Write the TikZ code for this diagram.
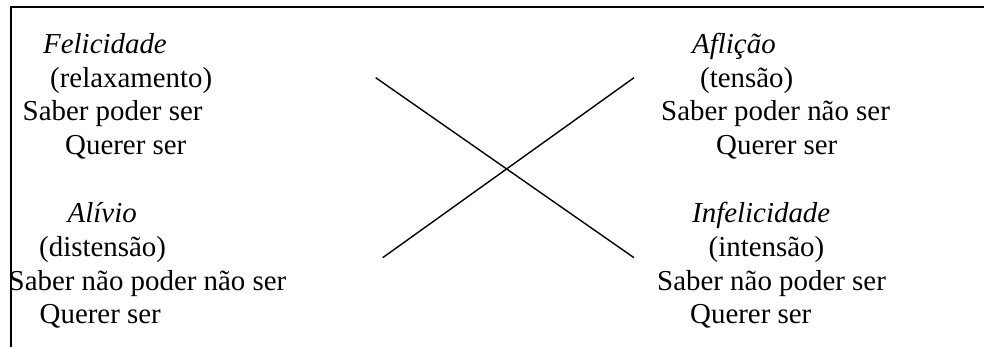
\documentclass[tikz,border=0pt]{standalone}
\usepackage{fontspec}
\setmainfont{Liberation Serif}
\begin{document}
\begin{tikzpicture}[x=1pt,y=-1pt,
  txt/.style={anchor=base west,inner sep=0pt,font=\fontsize{28.9}{33}\selectfont},
  itxt/.style={txt,font=\fontsize{28.9}{33}\selectfont\itshape},
  frame/.style={line width=2pt},
  cross/.style={line width=1.4pt}]
\useasboundingbox (0,0) rectangle (984,347);
% frame (top and left only)
\coordinate (tl) at (10.5,7.5);
\coordinate (tr) at (984,7.5);
\coordinate (bl) at (10.5,347);
\draw[frame] (tr) -- (tl) -- (bl);
% top left block
\node[itxt] (fel) at (43,54) {Felicidade};
\node[txt] (rel) at (50,87.5) {(relaxamento)};
\node[txt] (spsA) at (22.5,121) {Saber poder ser};
\node[txt] (qsA) at (65,155) {Querer ser};
% top right block
\node[itxt] (afl) at (692,54) {Aflição};
\node[txt] (ten) at (700,87.5) {(tensão)};
\node[txt] (spnsB) at (661,121) {Saber poder não ser};
\node[txt] (qsB) at (716,155) {Querer ser};
% bottom left block
\node[itxt] (ali) at (67.5,223) {Alívio};
\node[txt] (dis) at (39,256.5) {(distensão)};
\node[txt] (snpnsC) at (8.5,290) {Saber não poder não ser};
\node[txt] (qsC) at (39.5,323.5) {Querer ser};
% bottom right block
\node[itxt] (inf) at (692,223) {Infelicidade};
\node[txt] (int) at (708.5,256.5) {(intensão)};
\node[txt] (snpsD) at (657,290) {Saber não poder ser};
\node[txt] (qsD) at (690,323.5) {Querer ser};
% cross
\coordinate (x1) at (375.7,77.7);
\coordinate (x2) at (634,257.7);
\coordinate (x3) at (382.7,257.7);
\coordinate (x4) at (634,77.7);
\draw[cross] (x1) -- (x2);
\draw[cross] (x3) -- (x4);
\end{tikzpicture}
\end{document}
